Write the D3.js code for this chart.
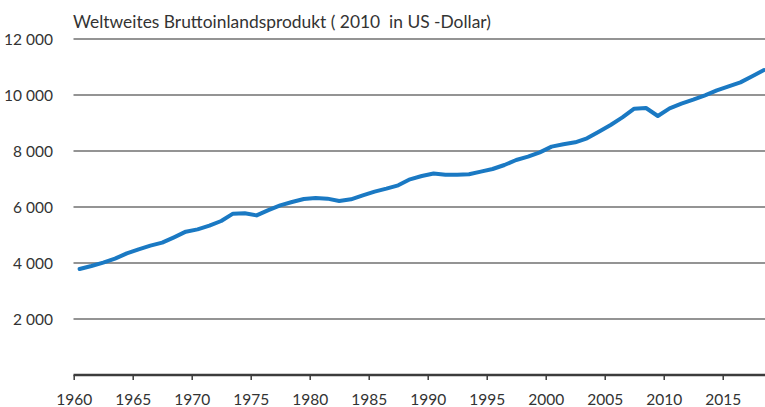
<!DOCTYPE html>
<html><head><meta charset="utf-8">
<script src="https://cdn.jsdelivr.net/npm/d3@7"></script>
<style>html,body{margin:0;padding:0;background:#fff;}svg{display:block;}</style>
</head><body>
<svg id="chart" width="765" height="407"></svg>
<script>
const years = d3.range(1960, 2019);
const gdpPerCapita = [3786, 3893, 4012, 4155, 4345, 4488, 4619, 4726, 4917, 5119,
  5202, 5333, 5500, 5762, 5774, 5700, 5890, 6060, 6179, 6286,
  6321, 6298, 6214, 6274, 6417, 6548, 6655, 6774, 6988, 7107,
  7195, 7155, 7155, 7167, 7262, 7357, 7500, 7679, 7798, 7952,
  8155, 8238, 8310, 8452, 8690, 8930, 9200, 9512, 9536, 9250,
  9524, 9690, 9833, 9988, 10167, 10310, 10452, 10667, 10893];
const yTicks = [2000, 4000, 6000, 8000, 10000, 12000];
const xTicks = [1960, 1965, 1970, 1975, 1980, 1985, 1990, 1995, 2000, 2005, 2010, 2015];
const title = "Weltweites Bruttoinlandsprodukt ( 2010  in US -Dollar)";

const svg = d3.select("#chart");
const font = "'Source Sans Pro', Lato, 'Noto Sans', sans-serif";
const x = d3.scaleLinear().domain([1960, 2018.6]).range([73.7, 765.2]);
const y = d3.scaleLinear().domain([0, 12000]).range([375, 39]);
const fmt = d3.formatLocale({decimal: ",", thousands: " ", grouping: [3], currency: ["", ""]}).format(",d");

// gridlines
svg.append("g").selectAll("line").data(yTicks).join("line")
  .attr("x1", 73.5).attr("x2", 765)
  .attr("y1", d => y(d)).attr("y2", d => y(d))
  .attr("stroke", "#707070").attr("stroke-width", 1.6);

// y labels
svg.append("g").selectAll("text").data(yTicks).join("text")
  .attr("x", 53).attr("y", d => y(d) + 5.5)
  .attr("text-anchor", "end")
  .attr("font-family", font).attr("font-size", 15.5).attr("fill", "#333")
  .text(d => fmt(d));

// x axis
const xAxis = d3.axisBottom(x).tickValues(xTicks).tickSize(5).tickSizeOuter(0).tickFormat(d3.format("d"));
const gx = svg.append("g").attr("transform", "translate(0,375)").call(xAxis);
gx.select(".domain").attr("stroke", "#3c3c3c").attr("stroke-width", 2.6).attr("d", "M73.5,0H765");
gx.selectAll(".tick line").attr("stroke", "#3c3c3c").attr("stroke-width", 1.5);
gx.selectAll(".tick text").attr("y", 0).attr("dy", 0)
  .attr("transform", "translate(0,30)")
  .attr("font-family", font).attr("font-size", 15.5).attr("fill", "#333");

// line
const line = d3.line().x((d, i) => x(years[i] + 0.5)).y(d => y(d));
svg.append("path").datum(gdpPerCapita)
  .attr("d", line).attr("fill", "none")
  .attr("stroke", "#1a79c3").attr("stroke-width", 4)
  .attr("stroke-linejoin", "round").attr("stroke-linecap", "round");

// title
svg.append("text").attr("x", 73).attr("y", 28)
  .attr("font-family", font).attr("font-size", 17.4).attr("fill", "#333")
  .style("white-space", "pre")
  .text(title);
</script>
</body></html>
